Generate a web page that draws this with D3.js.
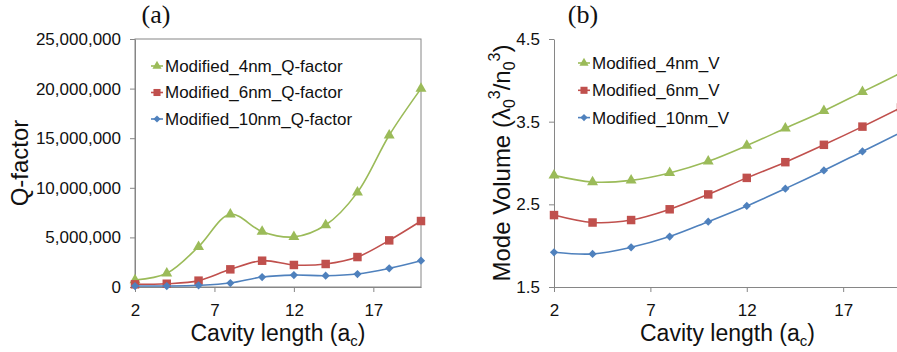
<!DOCTYPE html>
<html>
<head>
<meta charset="utf-8">
<script src="https://cdn.jsdelivr.net/npm/d3@7"></script>
<style>
  body { margin: 0; background: #fff; }
  svg { display: block; font-family: "Liberation Sans", Arial, sans-serif; }
  .axis path, .axis line { stroke: #868686; }
  .axis text { fill: #111; font-size: 17px; }
</style>
</head>
<body>
<svg id="chart" width="897" height="352"></svg>
<script>
// cavity length (a_c) at which both quantities were computed
const cavityLength = [2, 4, 6, 8, 10, 12, 14, 16, 18, 20];

// (a) Q-factor
const q4nm = [700000, 1380000, 4060000, 7330000, 5580000, 5050000, 6250000, 9540000, 15300000, 20000000];
const q6nm = [270000, 330000, 640000, 1780000, 2650000, 2220000, 2320000, 3020000, 4700000, 6650000];
const q10nm = [100000, 100000, 170000, 400000, 1000000, 1200000, 1140000, 1310000, 1880000, 2650000];

// (b) mode volume
const v4nm = [2.85, 2.77, 2.79, 2.88, 3.02, 3.21, 3.42, 3.63, 3.86, 4.09];
const v6nm = [2.37, 2.28, 2.31, 2.44, 2.62, 2.82, 3.01, 3.22, 3.44, 3.67];
const v10nm = [1.92, 1.90, 1.98, 2.11, 2.29, 2.48, 2.69, 2.91, 3.14, 3.37];

const xTicks = [2, 7, 12, 17];
const qTicks = [0, 5000000, 10000000, 15000000, 20000000, 25000000];
const vTicks = [1.5, 2.5, 3.5, 4.5];

const qNames = ['Modified_4nm_Q-factor', 'Modified_6nm_Q-factor', 'Modified_10nm_Q-factor'];
const vNames = ['Modified_4nm_V', 'Modified_6nm_V', 'Modified_10nm_V'];

const colors = ['#9bbb59', '#c0504d', '#4f81bd'];
const shapes = ['triangle', 'square', 'diamond'];

const svg = d3.select('#chart');

function marker(shape, big) {
  if (shape === 'triangle') return d3.symbol(d3.symbolTriangle, big ? 52 : 36)();
  if (shape === 'square') return d3.symbol(d3.symbolSquare, big ? 72 : 50)();
  return d3.symbol(d3.symbolSquare, big ? 34 : 26)(); // rotated later
}

function drawPanel(cfg) {
  const { left, right, top, bottom, yDomain, yTicks, yFormat, series, names, boxed, legendX, legendY, legendStep } = cfg;
  const g = svg.append('g');

  const x = d3.scaleLinear().domain([2, 20]).range([left, right]);
  const y = d3.scaleLinear().domain(yDomain).range([bottom, top]);

  if (boxed) {
    g.append('rect')
      .attr('x', left).attr('y', top)
      .attr('width', right - left).attr('height', bottom - top)
      .attr('fill', 'none').attr('stroke', '#868686');
  }

  const xAxis = g.append('g')
    .attr('class', 'axis')
    .attr('transform', `translate(0,${bottom})`)
    .call(d3.axisBottom(x).tickValues(xTicks).tickSize(5).tickPadding(9).tickSizeOuter(0));
  xAxis.selectAll('text').attr('dy', '0.9em');

  g.append('g')
    .attr('class', 'axis')
    .attr('transform', `translate(${left},0)`)
    .call(d3.axisLeft(y).tickValues(yTicks).tickFormat(yFormat).tickSize(5).tickPadding(9).tickSizeOuter(0));

  const line = d3.line()
    .x((d, i) => x(cavityLength[i]))
    .y(d => y(d))
    .curve(d3.curveCatmullRom.alpha(0.5));

  series.forEach((vals, s) => {
    g.append('path')
      .datum(vals)
      .attr('d', line)
      .attr('fill', 'none')
      .attr('stroke', colors[s])
      .attr('stroke-width', 1.6);

    g.selectAll(null)
      .data(vals)
      .join('path')
      .attr('d', marker(shapes[s], true))
      .attr('transform', (d, i) => `translate(${x(cavityLength[i])},${y(d)})` + (shapes[s] === 'diamond' ? ' rotate(45)' : ''))
      .attr('fill', colors[s]);
  });

  // legend
  names.forEach((name, s) => {
    const ly = legendY + s * legendStep;
    const lg = g.append('g');
    lg.append('line')
      .attr('x1', legendX).attr('x2', legendX + 12)
      .attr('y1', ly).attr('y2', ly)
      .attr('stroke', colors[s]).attr('stroke-width', 1.6);
    lg.append('path')
      .attr('d', marker(shapes[s], false))
      .attr('transform', `translate(${legendX + 6},${ly})` + (shapes[s] === 'diamond' ? ' rotate(45)' : ''))
      .attr('fill', colors[s]);
    lg.append('text')
      .attr('x', legendX + 14).attr('y', ly)
      .attr('dy', '0.35em')
      .attr('font-size', 17)
      .attr('fill', '#111')
      .text(name);
  });

  // x title
  const xt = g.append('text')
    .attr('x', (left + right) / 2)
    .attr('y', 341)
    .attr('text-anchor', 'middle')
    .attr('font-size', 23)
    .attr('fill', '#111');
  xt.append('tspan').text('Cavity length (a');
  xt.append('tspan').attr('font-size', 15).attr('dy', 5).text('c');
  xt.append('tspan').attr('dy', -5).text(')');

  return { g, x, y };
}

// (a) Q-factor
drawPanel({
  left: 135, right: 421, top: 39, bottom: 287,
  yDomain: [0, 25000000], yTicks: qTicks, yFormat: d3.format(','),
  series: [q4nm, q6nm, q10nm], names: qNames, boxed: true,
  legendX: 151, legendY: 66, legendStep: 26.5
});

svg.append('text')
  .attr('transform', 'translate(28,163) rotate(-90)')
  .attr('text-anchor', 'middle')
  .attr('font-size', 24)
  .attr('fill', '#111')
  .text('Q-factor');

svg.append('text')
  .attr('x', 156).attr('y', 23)
  .attr('text-anchor', 'middle')
  .attr('font-family', '"Liberation Serif", "Times New Roman", serif')
  .attr('font-size', 26)
  .attr('fill', '#111')
  .text('(a)');

// (b) mode volume
drawPanel({
  left: 554, right: 901, top: 39, bottom: 287,
  yDomain: [1.5, 4.5], yTicks: vTicks, yFormat: d3.format('.1f'),
  series: [v4nm, v6nm, v10nm], names: vNames, boxed: false,
  legendX: 578, legendY: 63, legendStep: 27.3
});

const vl = svg.append('text')
  .attr('transform', 'translate(510,163) rotate(-90)')
  .attr('text-anchor', 'middle')
  .attr('font-size', 24)
  .attr('fill', '#111');
vl.append('tspan').text('Mode Volume (\u03bb');
vl.append('tspan').attr('font-size', 16).attr('dy', 5).text('0');
vl.append('tspan').attr('font-size', 16).attr('dy', -15).text('3');
vl.append('tspan').attr('dy', 10).text('/n');
vl.append('tspan').attr('font-size', 16).attr('dy', 5).text('0');
vl.append('tspan').attr('font-size', 16).attr('dy', -15).text('3');
vl.append('tspan').attr('dy', 10).text(')');

svg.append('text')
  .attr('x', 583).attr('y', 23)
  .attr('text-anchor', 'middle')
  .attr('font-family', '"Liberation Serif", "Times New Roman", serif')
  .attr('font-size', 26)
  .attr('fill', '#111')
  .text('(b)');
</script>
</body>
</html>
